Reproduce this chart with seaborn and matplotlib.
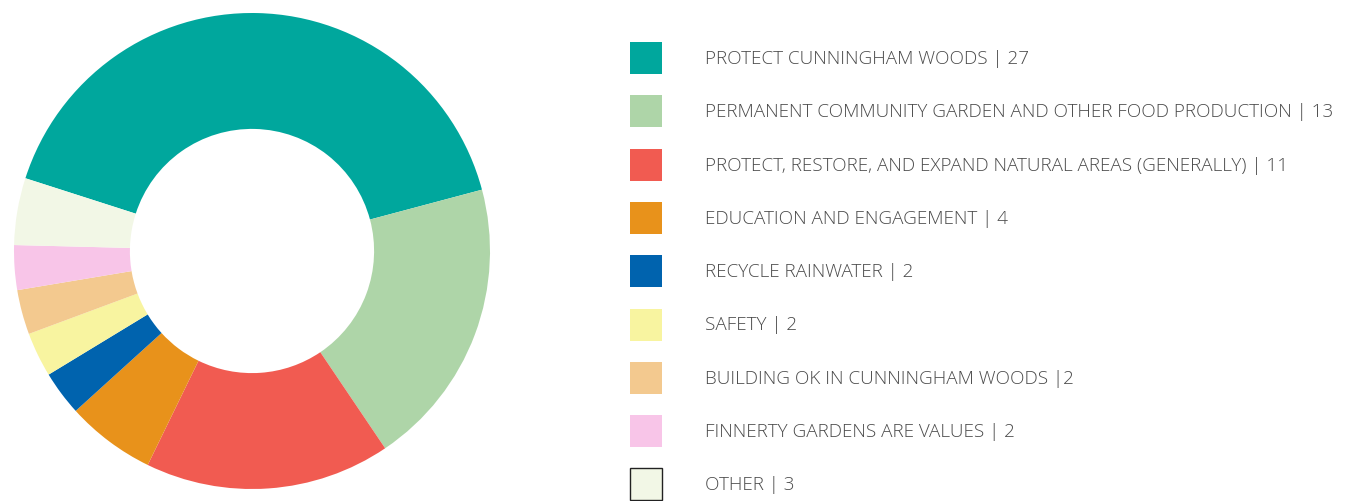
import matplotlib
matplotlib.use("Agg")
import matplotlib.pyplot as plt
import seaborn as sns
from matplotlib.patches import Rectangle

# categories and counts, in the order they appear on the ring (clockwise)
categories = [
    "PROTECT CUNNINGHAM WOODS",
    "PERMANENT COMMUNITY GARDEN AND OTHER FOOD PRODUCTION",
    "PROTECT, RESTORE, AND EXPAND NATURAL AREAS (GENERALLY)",
    "EDUCATION AND ENGAGEMENT",
    "RECYCLE RAINWATER",
    "SAFETY",
    "BUILDING OK IN CUNNINGHAM WOODS",
    "FINNERTY GARDENS ARE VALUES",
    "OTHER",
]
counts = [27, 13, 11, 4, 2, 2, 2, 2, 3]
# legend text as printed (separator spacing differs on one line)
legend_labels = [
    "PROTECT CUNNINGHAM WOODS | 27",
    "PERMANENT COMMUNITY GARDEN AND OTHER FOOD PRODUCTION | 13",
    "PROTECT, RESTORE, AND EXPAND NATURAL AREAS (GENERALLY) | 11",
    "EDUCATION AND ENGAGEMENT | 4",
    "RECYCLE RAINWATER | 2",
    "SAFETY | 2",
    "BUILDING OK IN CUNNINGHAM WOODS |2",
    "FINNERTY GARDENS ARE VALUES | 2",
    "OTHER | 3",
]
colors = ["#00A79D", "#AED5A8", "#F15B51", "#E8921B", "#0063AE",
          "#F8F4A0", "#F3C98F", "#F8C5E8", "#F2F7E6"]

sns.set_theme(style="white")
plt.rcParams["font.family"] = ["Open Sans", "DejaVu Sans"]

W, H = 1352, 502
fig = plt.figure(figsize=(W / 100, H / 100), dpi=100)

# donut: centre ~ (252, 252) px, outer radius ~238 px
ax = fig.add_axes([14 / W, 12 / H, 476 / W, 476 / H])
ax.pie(counts, colors=colors, startangle=162.2, counterclock=False,
       radius=1.0, wedgeprops=dict(width=0.487, linewidth=0))
ax.set_xlim(-1, 1)
ax.set_ylim(-1, 1)
ax.set_aspect("equal")
ax.axis("off")

# legend built by hand so rows line up with the reference
row0, step = 59, 53.3
for i, (lab, col) in enumerate(zip(legend_labels, colors)):
    yc = row0 + i * step
    edge = "#222222" if categories[i] == "OTHER" else "none"
    fig.patches.append(Rectangle((630 / W, (H - yc - 16) / H), 32 / W, 32 / H,
                                 transform=fig.transFigure, facecolor=col,
                                 edgecolor=edge, linewidth=1.0))
    fig.text(705 / W, (H - yc) / H, lab, ha="left", va="center",
             fontsize=13.6, fontweight="light", color="#4a4a4a")

fig.savefig("out.png", dpi=100)
